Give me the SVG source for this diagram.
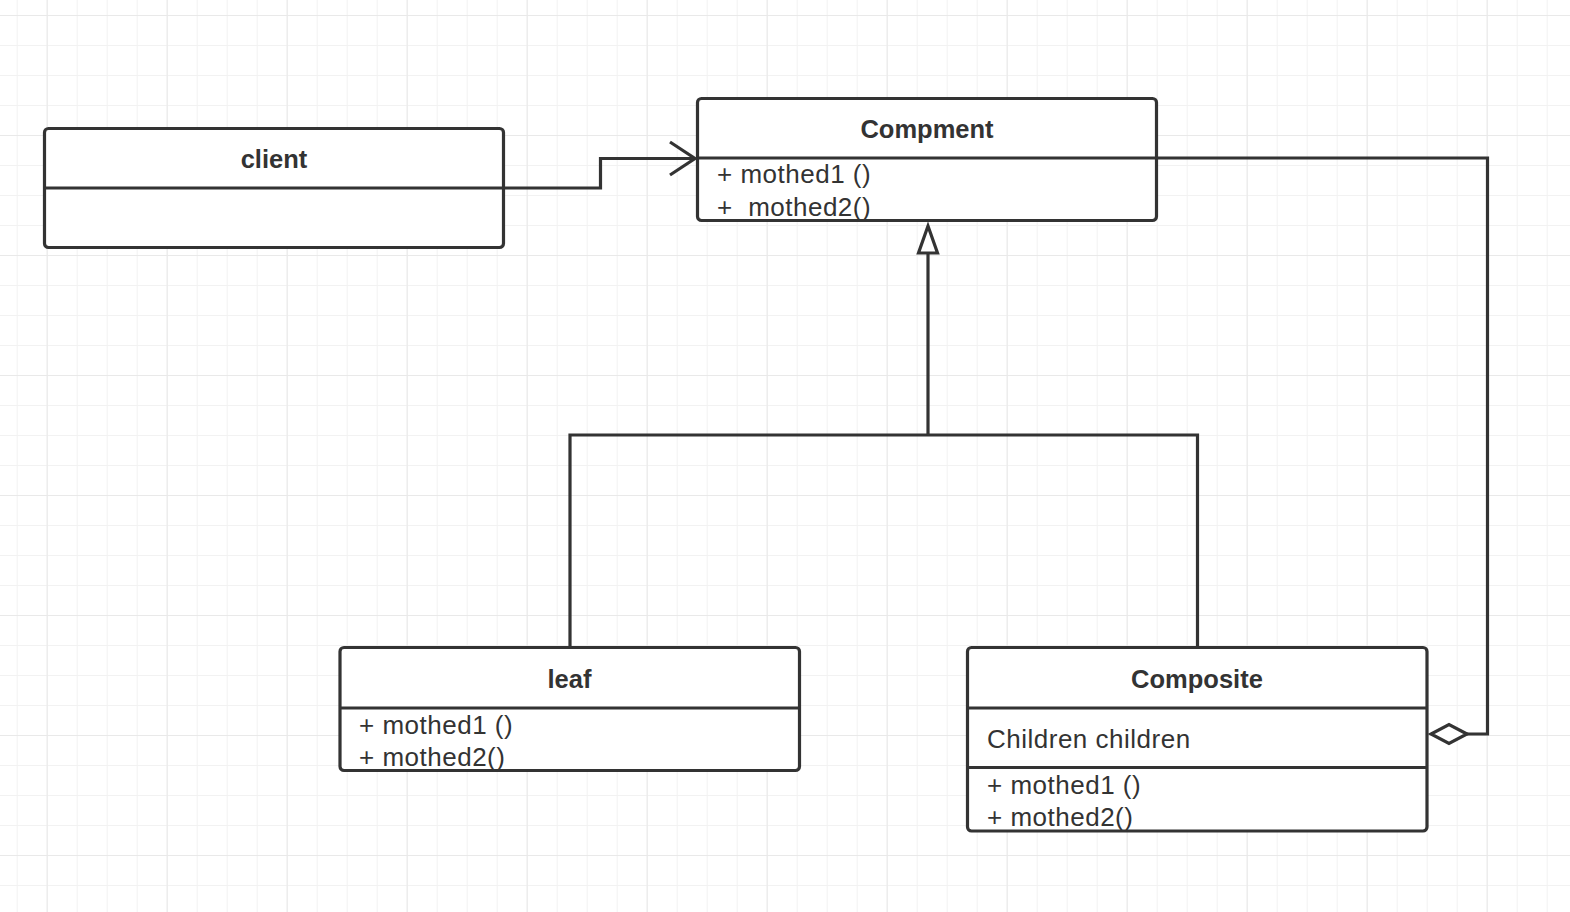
<svg xmlns="http://www.w3.org/2000/svg" width="1570" height="912" viewBox="0 0 1570 912">
  <defs>
    <pattern id="minor" patternUnits="userSpaceOnUse" x="16.67" y="15" width="30" height="30">
      <path d="M0,0 H30 M0,0 V30" fill="none" stroke="#f2f2f2" stroke-width="2"/>
    </pattern>
    <pattern id="major" patternUnits="userSpaceOnUse" x="46.67" y="15" width="120" height="120">
      <path d="M0,0 H120 M0,0 V120" fill="none" stroke="#e9e9e9" stroke-width="2"/>
    </pattern>
    <style>
      .box { fill: #ffffff; stroke: #333333; stroke-width: 3.2; }
      .sep { stroke: #333333; stroke-width: 3.2; fill: none; }
      .line { stroke: #333333; stroke-width: 3.2; fill: none; }
      .title { font-family: "Liberation Sans", Arial, sans-serif; font-size: 25.5px; font-weight: bold; fill: #333333; text-anchor: middle; }
      .txt { font-family: "Liberation Sans", Arial, sans-serif; font-size: 26px; letter-spacing: 0.5px; fill: #333333; white-space: pre; }
    </style>
  </defs>
  <rect x="0" y="0" width="1570" height="912" fill="#ffffff"/>
  <rect x="0" y="0" width="1570" height="912" fill="url(#minor)"/>
  <rect x="0" y="0" width="1570" height="912" fill="url(#major)"/>

  <g id="connectors">
    <path class="line" d="M503,188 H600.5 V158.5 H694"/>
    <polyline class="line" points="670,142 695,158.5 670,175"/>
    <path class="line" d="M570,647 V435 H1197.5 V647"/>
    <path class="line" d="M928,435 V253"/>
    <polygon class="line" points="928,226 918.5,253 937.5,253" style="fill:#ffffff"/>
    <path class="line" d="M1157,158 H1487.5 V734 H1467"/>
    <polygon class="line" points="1467,734 1449,724.5 1431,734 1449,743.5" style="fill:#ffffff"/>
  </g>

  <g id="client">
    <rect class="box" x="44.5" y="128.5" width="459" height="119" rx="4"/>
    <line class="sep" x1="44.5" y1="188" x2="503.5" y2="188"/>
    <text class="title" x="274" y="168">client</text>
  </g>

  <g id="compment">
    <rect class="box" x="697.5" y="98.5" width="459" height="122" rx="4"/>
    <line class="sep" x1="697.5" y1="158" x2="1156.5" y2="158"/>
    <text class="title" x="927" y="138">Compment</text>
    <text class="txt" x="717" y="183">+ mothed1 ()</text>
    <text class="txt" x="717" y="216">+  mothed2()</text>
  </g>

  <g id="leaf">
    <rect class="box" x="340" y="647.5" width="459.5" height="123" rx="4"/>
    <line class="sep" x1="340" y1="708" x2="799.5" y2="708"/>
    <text class="title" x="569.5" y="688">leaf</text>
    <text class="txt" x="359" y="734">+ mothed1 ()</text>
    <text class="txt" x="359" y="766">+ mothed2()</text>
  </g>

  <g id="composite">
    <rect class="box" x="967.5" y="647.5" width="459.5" height="183.5" rx="4"/>
    <line class="sep" x1="967.5" y1="708" x2="1427" y2="708"/>
    <line class="sep" x1="967.5" y1="767.5" x2="1427" y2="767.5"/>
    <text class="title" x="1197" y="688">Composite</text>
    <text class="txt" x="987" y="748">Children children</text>
    <text class="txt" x="987" y="794">+ mothed1 ()</text>
    <text class="txt" x="987" y="826">+ mothed2()</text>
  </g>
</svg>
